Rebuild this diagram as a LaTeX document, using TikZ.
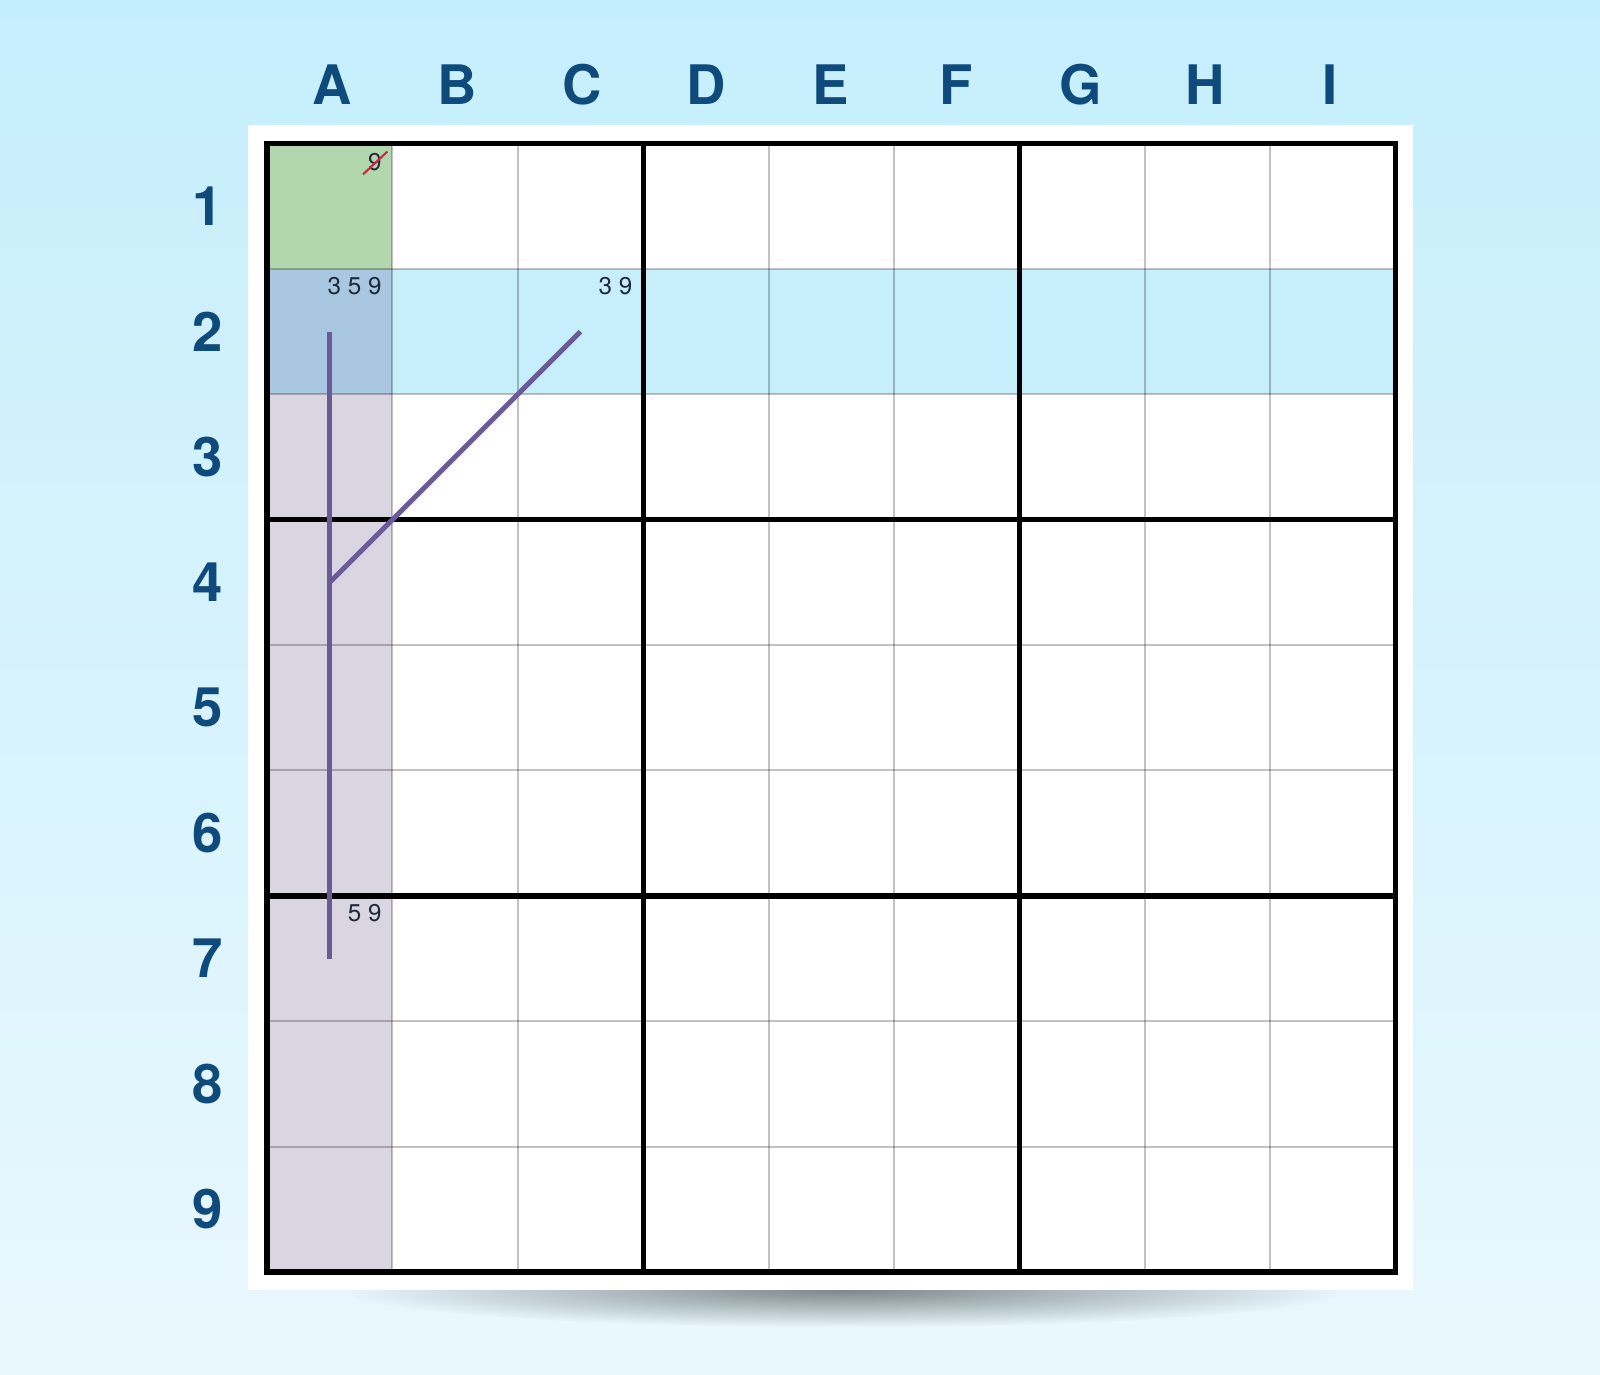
\documentclass[tikz,border=0pt]{standalone}
\usepackage{fontspec}
\setmainfont{TeX Gyre Heros}
\usepackage{xcolor}
\usepackage{tikz}
\usetikzlibrary{calc,fadings}
\definecolor{bgtop}{RGB}{197,238,252}
\definecolor{bgbot}{RGB}{233,248,253}
\definecolor{labelblue}{RGB}{14,74,123}
\definecolor{givencell}{RGB}{178,214,174}
\definecolor{pivotcell}{RGB}{169,199,224}
\definecolor{rowcell}{RGB}{198,238,251}
\definecolor{colcell}{RGB}{217,213,225}
\definecolor{linkcol}{RGB}{106,90,152}
\definecolor{candcol}{RGB}{30,42,58}
\definecolor{strikecol}{RGB}{200,40,70}
\tikzfading[name=shadowfade,inner color=transparent!55,outer color=transparent!100]
\begin{document}
\begin{tikzpicture}[x=1.254cm,y=-1.254cm,
  thingrid/.style={black,opacity=0.24,line width=0.55pt},
  boxline/.style={black,line width=1.5pt},
  link/.style={linkcol,line width=1.4pt},
  cand/.style={anchor=north east,inner sep=0pt,text=candcol,font=\fontsize{6.9}{8}\selectfont},
  head/.style={text=labelblue,font=\fontsize{15.5}{18}\selectfont\bfseries},
  strike/.style={strikecol,line width=0.6pt}]
\useasboundingbox (-2.129,-1.144) rectangle (10.63,9.813);
%background
\shade[top color=bgtop,bottom color=bgbot] (-2.129,-1.144) rectangle (10.63,9.813);
\fill[black,path fading=shadowfade] (4.6,9.143) ellipse (4.0 and 0.3);
\fill[white] (-0.15,-0.148) rectangle (9.139,9.143);
%cells
\foreach \c [count=\i] in {A,...,I}
\foreach \r in {1,...,9}
\coordinate (\c\r) at (\i-0.5,\r-0.5);
\fill[givencell] (0,0) rectangle (1,1);
\fill[pivotcell] (0,1) rectangle (1,2);
\fill[rowcell] (1,1) rectangle (9,2);
\fill[colcell] (0,2) rectangle (1,9);
%grid
\foreach \i in {1,2,4,5,7,8}
{\draw[thingrid] (\i,0) -- (\i,9);
\draw[thingrid] (0,\i) -- (9,\i);}
\foreach \i in {3,6}
{\draw[boxline] (\i,0) -- (\i,9);
\draw[boxline] (0,\i) -- (9,\i);}
\draw[boxline] (0,0) rectangle (9,9);
%links
\draw[link] (A2) -- (A7);
\draw[link] (C2) -- (A4);
%candidates
\node[cand] (cA1) at ($(A1)+(0.42,-0.425)$) {9};
\draw[strike] ([shift={(-0.035,0.02)}]cA1.south west) -- ([shift={(0.04,-0.01)}]cA1.north east);
\node[cand] (cA2) at ($(A2)+(0.42,-0.435)$) {3 5 9};
\node[cand] (cC2) at ($(C2)+(0.42,-0.435)$) {3 9};
\node[cand] (cA7) at ($(A7)+(0.42,-0.435)$) {5 9};
%labels
\foreach \c [count=\i] in {A,...,I}
\node[head] (col\c) at ({0.994*(\i-0.5)+0.025},-0.467) {\c};
\foreach \r in {1,...,9}
\node[head] (row\r) at (-0.47,\r-0.5) {\r};
\end{tikzpicture}
\end{document}
